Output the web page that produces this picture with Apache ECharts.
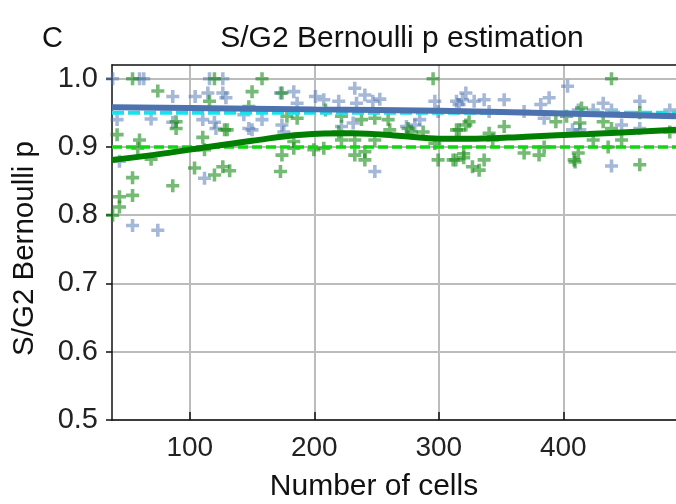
<!DOCTYPE html>
<html>
<head>
<meta charset="utf-8">
<script src="https://cdn.jsdelivr.net/npm/echarts@6/dist/echarts.min.js"></script>
<style>
html,body{margin:0;padding:0;background:#fff;}
#chart{width:676px;height:504px;}
</style>
</head>
<body>
<div id="chart"></div>
<script>
// ---- data ----
var panelLabel = 'C';
var titleText = 'S/G2 Bernoulli p estimation';
var xName = 'Number of cells';
var yName = 'S/G2 Bernoulli p';
var xTicks = [100, 200, 300, 400];
var yTicks = [0.5, 0.6, 0.7, 0.8, 0.9, 1.0];
var xRange = [37.5, 490.5];
var yRange = [0.5, 1.02];

var bluePoints = [
  [38,1.0],[59.6,1.0],[63,1.0],[86.3,0.974],[41.6,0.94],[68.9,0.941],[86.3,0.936],[43.5,0.879],
  [54,0.785],[74.3,0.778],[104.3,0.974],[114.5,0.979],[115.8,1.0],[126.5,1.0],[126.5,0.979],
  [110.4,0.94],[119.8,0.936],[121,0.927],[111.8,0.854],[129,0.972],[143.4,0.947],[158,0.94],
  [147.4,0.927],[150,0.925],[174,0.932],[175.5,0.922],[172.8,0.979],[183.5,0.981],[186.2,0.964],
  [200.9,0.974],[207.6,0.969],[219.6,0.967],[232.5,0.986],[240.6,0.976],[233.9,0.964],[247,0.967],
  [252.6,0.97],[231.2,0.935],[221.8,0.93],[284.7,0.94],[280.7,0.932],[274,0.93],[296.8,0.967],
  [299.4,0.952],[248.6,0.864],[314.2,0.967],[321.7,0.979],[319,0.969],[316.3,0.962],[328.4,0.967],
  [336.4,0.969],[352.5,0.969],[340.4,0.952],[368.5,0.952],[381.9,0.962],[388.6,0.972],[384.6,0.942],
  [403.4,0.989],[407.4,0.925],[412,0.954],[424,0.954],[432,0.964],[438.7,0.954],[446.8,0.932],
  [413.3,0.925],[461.4,0.967],[461.4,0.927],[438.7,0.872],[485.5,0.954]
];
var greenPoints = [
  [54,1.0],[74.3,0.982],[89,0.937],[89,0.927],[41.6,0.918],[59.6,0.91],[58.2,0.898],[68.9,0.882],
  [54,0.855],[54,0.829],[43.5,0.827],[43.5,0.812],[38,0.80],[86.3,0.843],[119.8,1.0],[115.8,0.967],
  [110.4,0.914],[103.8,0.869],[119.8,0.859],[126.5,0.871],[127.9,0.925],[111.8,0.896],[158,1.0],
  [150,0.981],[147.4,0.959],[130,0.925],[132,0.865],[174,0.979],[186.2,0.942],[174,0.888],
  [172.8,0.864],[183.5,0.908],[183.5,0.898],[199.6,0.896],[207.6,0.898],[209,0.954],[219.6,0.922],
  [178,0.945],[295.4,1.0],[221.8,0.945],[237.9,0.94],[248.6,0.942],[259.3,0.94],[260.6,0.925],
  [221.8,0.91],[232.5,0.91],[232.5,0.888],[240.6,0.881],[240.6,0.893],[248.6,0.91],[275.3,0.927],
  [278,0.922],[287.4,0.922],[296.8,0.905],[299.4,0.881],[311.5,0.881],[314.2,0.925],[324.3,0.937],
  [321.7,0.932],[316.3,0.925],[340.4,0.92],[352.5,0.93],[343.3,0.91],[320,0.89],[320,0.884],
  [313.7,0.881],[327,0.871],[332.4,0.866],[336.4,0.881],[368.5,0.891],[380.5,0.888],[384.6,0.9],
  [394,0.937],[408.7,0.881],[438.7,1.0],[414.6,0.957],[402.6,0.945],[413.3,0.935],[432,0.937],
  [438.7,0.927],[424,0.91],[446.8,0.91],[436,0.9],[412,0.891],[409.4,0.878],[461.4,0.874],
  [485.5,0.922],[461.4,0.95]
];
var blueFitX = [37.5, 100, 200, 300, 400, 490.5];
var blueFitY = [0.958, 0.957, 0.955, 0.953, 0.949, 0.945];
var greenFitX = [37.5, 70, 100, 150, 190, 230, 270, 300, 330, 370, 420, 490.5];
var greenFitY = [0.881, 0.888, 0.896, 0.909, 0.918, 0.920, 0.916, 0.912, 0.912, 0.915, 0.919, 0.925];
var blueTrue = 0.95;
var greenTrue = 0.90;

// ---- chart ----
function pairs(xs, ys){ return xs.map(function(x,i){ return [x, ys[i]]; }); }
function flat(v){ return [[xRange[0], v],[xRange[1], v]]; }
var plus = 'path://M4,0H7V4H11V7H7V11H4V7H0V4H4Z';
var FONT = 'Liberation Sans';

var chart = echarts.init(document.getElementById('chart'), null, {renderer:'canvas'});
chart.setOption({
  animation: false,
  backgroundColor: '#ffffff',
  textStyle: {fontFamily: FONT},
  title: [
    {text: titleText, left: 397, top: 19, textAlign: 'center',
     textStyle: {fontFamily: FONT, fontSize: 30, fontWeight: 'normal', color: '#111'}},
    {text: panelLabel, left: 37, top: 19,
     textStyle: {fontFamily: FONT, fontSize: 29, fontWeight: 'normal', color: '#111'}}
  ],
  grid: {left: 112, right: 0, top: 65, bottom: 84, containLabel: false, outerBoundsMode: 'none'},
  xAxis: [{
    type: 'value', min: xRange[0], max: xRange[1],
    name: xName, nameLocation: 'middle', nameGap: 52,
    nameTextStyle: {fontFamily: FONT, fontSize: 30, color: '#111', padding: [0, 40, 0, 0]},
    axisLine: {show: true, lineStyle: {color: '#111', width: 1.5}},
    axisTick: {show: true, inside: true, length: 8, customValues: xTicks, lineStyle: {color: '#111', width: 1.5}},
    axisLabel: {customValues: xTicks, fontFamily: FONT, fontSize: 28, color: '#222', margin: 14},
    splitLine: {show: true, lineStyle: {color: '#bcbcbc', width: 2}}
  },{
    type: 'value', position: 'top', min: xRange[0], max: xRange[1],
    axisLine: {show: true, lineStyle: {color: '#111', width: 1.5}},
    axisTick: {show: false}, axisLabel: {show: false}, splitLine: {show: false}
  }],
  yAxis: {
    type: 'value', min: yRange[0], max: yRange[1],
    name: yName, nameLocation: 'middle', nameGap: 72, nameRotate: 90,
    nameTextStyle: {fontFamily: FONT, fontSize: 29.5, color: '#111', padding: [0, 12, 0, 0]},
    axisLine: {show: true, lineStyle: {color: '#111', width: 1.5}},
    axisTick: {show: true, inside: false, length: 6, customValues: yTicks, lineStyle: {color: '#111', width: 1.5}},
    axisLabel: {customValues: yTicks, fontFamily: FONT, fontSize: 29, color: '#222', margin: 14,
      formatter: function(v){ return v.toFixed(1); }},
    splitLine: {show: true, lineStyle: {color: '#bcbcbc', width: 2}}
  },
  series: [
    {type: 'scatter', data: bluePoints, symbol: plus, symbolSize: 13,
     itemStyle: {color: '#4C72B0', opacity: 0.5}, z: 2},
    {type: 'scatter', data: greenPoints, symbol: plus, symbolSize: 13,
     itemStyle: {color: '#118811', opacity: 0.58}, z: 2},
    {type: 'line', data: flat(blueTrue), symbol: 'none',
     lineStyle: {color: '#14e4ee', width: 4, type: [12, 4]}, z: 3},
    {type: 'line', data: flat(greenTrue), symbol: 'none',
     lineStyle: {color: '#11d611', width: 3.5, type: [10, 4]}, z: 3},
    {type: 'line', data: pairs(greenFitX, greenFitY), symbol: 'none', smooth: 0.4,
     lineStyle: {color: '#007f00', width: 6}, z: 4},
    {type: 'line', data: pairs(blueFitX, blueFitY), symbol: 'none', smooth: true,
     lineStyle: {color: '#4C72B0', width: 6}, z: 5}
  ]
});
</script>
</body>
</html>
